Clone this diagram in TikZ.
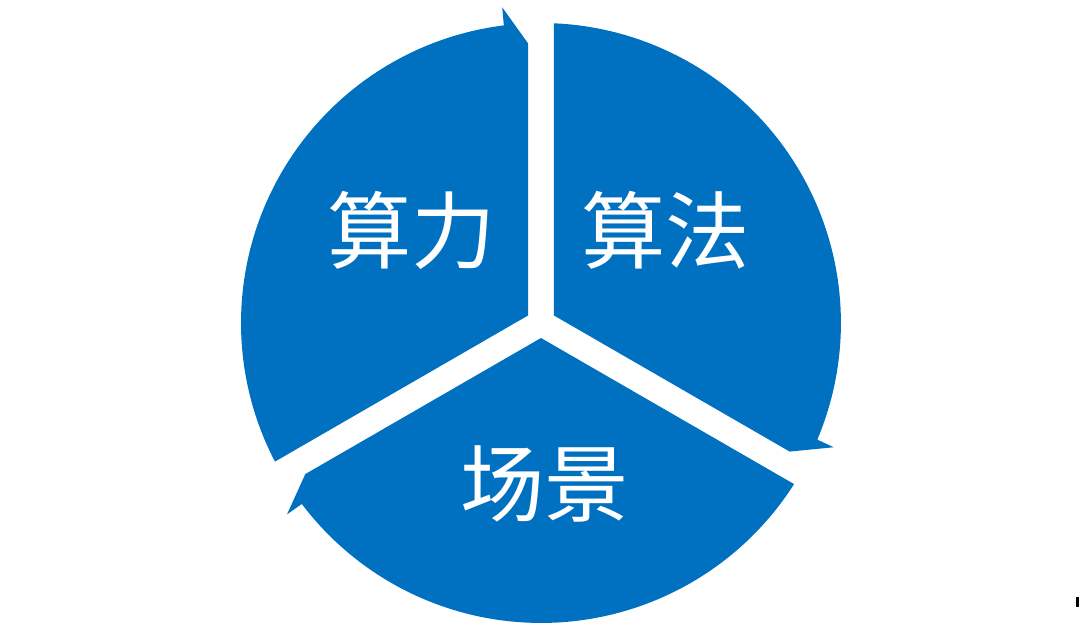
\documentclass[tikz,border=0pt]{standalone}
\usepackage{fontspec}
\newfontfamily\cjk{Noto Sans CJK SC}
\definecolor{segblue}{HTML}{0070C0}
\tikzset{
  seglabel/.style={text=white,inner sep=0pt,font=\cjk\fontsize{48}{48}\selectfont}
}
\begin{document}
\begin{tikzpicture}[x=0.02cm,y=0.02cm]
   \useasboundingbox (-541,-316) rectangle (539,323);
   % three segments, each ending in a half arrow head
   \fill[segblue] (150:15) -- (207.52:300) arc[start angle=207.52, end angle=97.1, radius=6cm]
      -- (97:318) -- (92.66:280) -- cycle;
   \fill[segblue] (30:15) -- (87.52:300) arc[start angle=87.52, end angle=-22.9, radius=6cm]
      -- (-23:318) -- (-27.34:280) -- cycle;
   \fill[segblue] (270:15) -- (327.52:300) arc[start angle=327.52, end angle=217.1, radius=6cm]
      -- (217:318) -- (212.66:280) -- cycle;
   \node[seglabel] (suanli) at (-129,92.5) {算力};
   \node[seglabel] (suanfa) at (124.7,93) {算法};
   \node[seglabel] (changjing) at (3.4,-160.6) {场景};
   \draw[line width=1.2pt] (536.5,-274) -- (536.5,-284);
\end{tikzpicture}
\end{document}
